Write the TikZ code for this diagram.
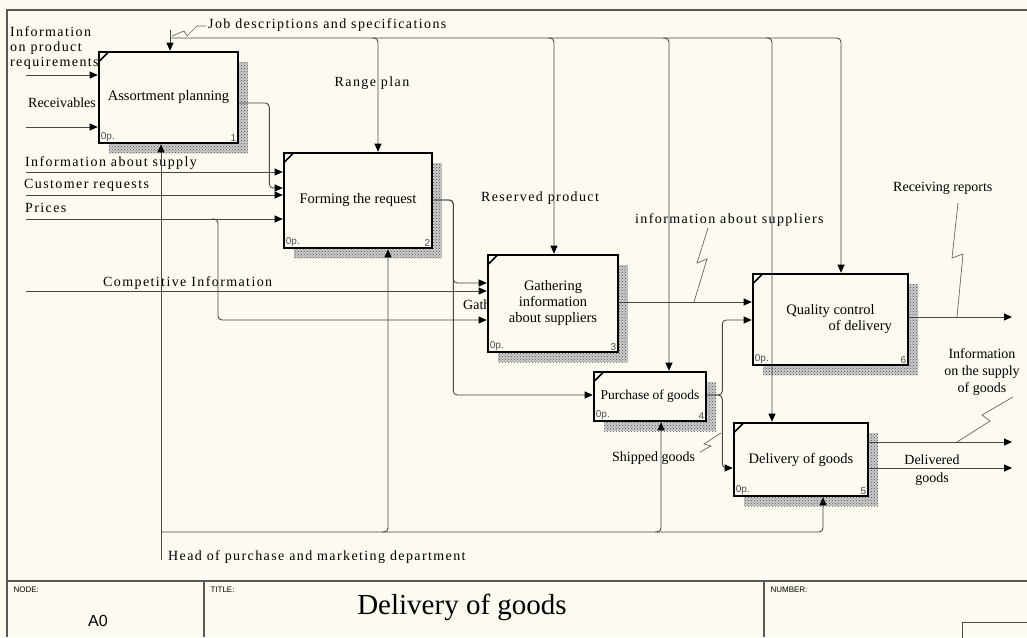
\documentclass[tikz,border=0pt]{standalone}
\usepackage{fontspec}
\setmainfont{Liberation Serif}
\newfontfamily\lblfont[LetterSpace=10]{Liberation Serif}
\newfontfamily\opfont{Liberation Sans}
\usetikzlibrary{arrows.meta,patterns,calc}
\definecolor{paper}{RGB}{252,250,241}

\begin{document}
\begin{tikzpicture}[x=1pt,y=-1pt,
   func/.style={draw=black,line width=2.6pt,fill=paper,inner sep=2pt,align=center,font=\fontsize{14.5}{16}\selectfont},
   shade/.style={fill=black!20,postaction={pattern=crosshatch dots,pattern color=black!70}},
   oplbl/.style={font=\opfont\fontsize{10}{11}\selectfont,text=black!70,inner sep=3pt},
   arr/.style={draw=black!72,line width=0.9pt,rounded corners=4pt,-{Triangle[length=8pt,width=7pt,color=black]}},
   sq/.style={draw=black!60,line width=0.7pt},
   lbl/.style={font=\lblfont\fontsize{14}{15}\selectfont,inner sep=0pt,align=left},
   txt/.style={font=\fontsize{14}{16}\selectfont,inner sep=0pt,align=center},
   frame/.style={draw=black!65,line width=1.6pt}]
   \useasboundingbox[fill=paper] (0,0) rectangle (1027,637);
   % sheet frame and title block
   \draw[frame] (1027,10) -- (7,10) -- (7,637);
   \draw[frame] (7,581) -- (1027,581);
   \draw[frame] (204,581) -- (204,637) (764,581) -- (764,637);
   \draw[black!70,line width=1pt] (962,622) rectangle (1030,640);
   \node[font=\opfont\fontsize{8}{9}\selectfont,anchor=west] (nodehd) at (10,590) {NODE:};
   \node[font=\opfont\fontsize{8}{9}\selectfont,anchor=west] (titlehd) at (207,590) {TITLE:};
   \node[font=\opfont\fontsize{8}{9}\selectfont,anchor=west] (numhd) at (767,590) {NUMBER:};
   \node[font=\opfont\fontsize{16}{18}\selectfont] (nodeno) at (98,621) {A0};
   \node[font=\fontsize{29}{32}\selectfont] (title) at (462,607) {Delivery of goods};
   % arrow labels
   \node[lbl,anchor=west] (lreq) at (10,48) {Information\\on product\\requirements};
   \node[txt] (lrcv) at (62,103) {Receivables};
   \node[lbl,anchor=west] (ljob) at (208,25) {Job descriptions and specifications};
   \node[lbl] (lrange) at (372,83) {Range plan};
   \node[lbl,anchor=west] (lsup) at (25,163) {Information about supply};
   \node[lbl,anchor=west] (lcust) at (24,185) {Customer requests};
   \node[lbl,anchor=west] (lprice) at (25,208) {Prices};
   \node[lbl,anchor=west] (lcomp) at (103,283) {Competitive Information};
   \node[txt,anchor=west] (lgath) at (463,305) {Gath};
   \node[lbl] (lres) at (540,198) {Reserved product};
   \node[lbl,anchor=west] (linfo) at (635,220) {information about suppliers};
   \node[txt,anchor=west] (lrep) at (893,188) {Receiving reports};
   \node[txt] (lisup) at (982,372) {Information\\[1pt]on the supply\\[1pt]of goods};
   \node[txt] (ldlv) at (932,470) {Delivered\\[2pt]goods};
   \node[txt,anchor=west] (lship) at (612,458) {Shipped goods};
   \node[lbl,anchor=west] (lhead) at (168,557) {Head of purchase and marketing department};
   % activity boxes: id/center x/center y/width/height/text
   \foreach \id/\cx/\cy/\w/\h/\txt in {1/168.5/97.5/139/91/{Assortment planning},
         2/358/200.5/148/95/{Forming the request},
         3/553/303.5/130/97/{Gathering\\information\\about suppliers},
         4/650/396.5/112/49/{\fontsize{13.5}{15}\selectfont Purchase of goods},
         5/801/459.5/134/73/{Delivery of goods},
         6/830.5/319.5/155/91/{Quality control\\\hspace*{4.1em}of delivery}}
   {
      \fill[shade] (\cx-\w/2+10,\cy-\h/2+10) rectangle (\cx+\w/2+10,\cy+\h/2+10);
      \node[func,minimum width=\w pt,minimum height=\h pt] (b\id) at (\cx,\cy) {\txt};
      \draw[line width=1.6pt] ($(b\id.north west)+(1,11)$) -- ($(b\id.north west)+(11,1)$);
      \node[oplbl,anchor=south west] (op\id) at (b\id.south west) {0p.};
      \node[oplbl,anchor=south east] (no\id) at (b\id.south east) {\id};
   }
   % inputs from the left border
   \foreach \nm/\y/\b in {req/75/b1,rcv/127/b1,sup/172/b2,cust/195/b2,price/219/b2,comp/291/b3}
   {
      \coordinate (\nm) at (26,\y);
      \draw[arr] (\nm) -- (\b.west |- \nm);
   }
   \coordinate (pj) at (212,219);
   \coordinate (p3) at (0,320);
   \draw[arr] (pj) -- ++(6,0) |- (b3.west |- p3);
   % links between boxes
   \coordinate (o1) at (0,103);
   \coordinate (i2) at (0,188);
   \draw[arr] (b1.east |- o1) -- ++(30,0) |- (b2.west |- i2);
   \coordinate (o2) at (0,200);
   \coordinate (i3) at (0,283);
   \coordinate (i4) at (0,395);
   \draw[arr] (b2.east |- o2) -- ++(20,0) |- (b3.west |- i3);
   \draw[arr] (b2.east |- o2) -- ++(20,0) |- (b4.west |- i4);
   \coordinate (o3) at (0,302);
   \draw[arr] (b3.east |- o3) -- (b6.west |- o3);
   \coordinate (i6) at (0,320);
   \coordinate (i5) at (0,468);
   \draw[arr] (b4.east |- i4) -- ++(15,0) |- (b6.west |- i6);
   \draw[arr] (b4.east |- i4) -- ++(15,0) |- (b5.west |- i5);
   % outputs to the right border
   \coordinate (rep) at (1012,317);
   \coordinate (isup) at (1012,442);
   \coordinate (dlv) at (1012,468);
   \draw[arr] (b6.east |- rep) -- (rep);
   \draw[arr] (b5.east |- isup) -- (isup);
   \draw[arr] (b5.east |- dlv) -- (dlv);
   % controls from the top
   \coordinate (jobtop) at (170,30);
   \coordinate (ctl) at (170,38);
   \coordinate (c6) at (841,38);
   \draw[arr] (jobtop) -- (b1.north -| jobtop);
   \draw[arr] (ctl) -| (b6.north -| c6);
   \foreach \x/\b in {378/b2,554/b3,669/b4,772/b5}
   {
      \coordinate (c\b) at (\x,38);
      \draw[arr] ([xshift=-6pt]c\b) -| (\b.north -| c\b);
   }
   % mechanisms from the bottom
   \coordinate (mech) at (161,560);
   \coordinate (mj) at (161,532);
   \coordinate (m5) at (823,532);
   \draw[arr] (mech) -- (b1.south -| mech);
   \draw[arr] (mj) -| (b5.south -| m5);
   \foreach \x/\b in {388/b2,661/b4}
   {
      \coordinate (m\b) at (\x,532);
      \draw[arr] ([xshift=-6pt]m\b) -| (\b.south -| m\b);
   }
   % squiggles from labels to arrows
   \draw[sq] (206,26) -- (197,26) -- (187,36) -- (184,31) -- (172,36);
   \draw[sq] (708,228) -- (697,263) -- (707,259) -- (694,302);
   \draw[sq] (958,203) -- (952,258) -- (963,254) -- (957,317);
   \draw[sq] (1013,397) -- (982,415) -- (990,421) -- (957,442);
   \draw[sq] (700,452) -- (711,446) -- (704,444) -- (721,433);
\end{tikzpicture}
\end{document}
